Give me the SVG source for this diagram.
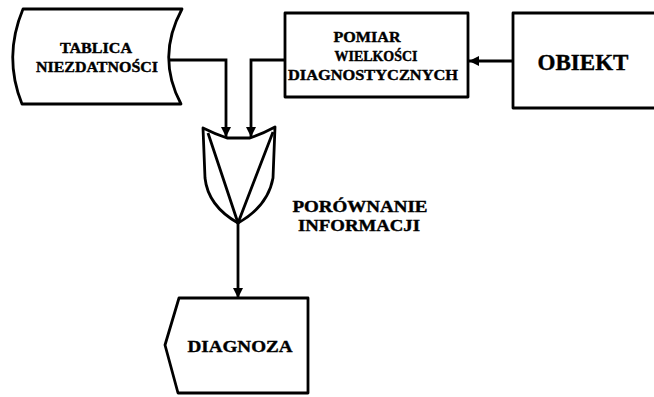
<svg xmlns="http://www.w3.org/2000/svg" width="654" height="397" viewBox="0 0 654 397">
<style>
  .shape{fill:#fff;stroke:#000;stroke-width:2.8;stroke-linejoin:round}
  .line{fill:none;stroke:#000;stroke-width:2.8}
  .t{font-family:'Liberation Serif','DejaVu Serif','Times New Roman',serif;font-weight:900;fill:#000;stroke:#000;stroke-width:0.4;text-anchor:middle}
</style>
<defs>
  <marker id="ah" viewBox="0 0 10 10" refX="10" refY="5" markerWidth="10" markerHeight="14" markerUnits="userSpaceOnUse" orient="auto">
    <path d="M0,0 L10,5 L0,10 Z" fill="#000"/>
  </marker>
</defs>
<rect width="654" height="397" fill="#fff"/>
<g id="connectors">
  <path class="line" d="M170,60 H226 V137" marker-end="url(#ah)"/>
  <path class="line" d="M285,60 H251 V137" marker-end="url(#ah)"/>
  <path class="line" d="M513,61 H469" marker-end="url(#ah)"/>
  <path class="line" d="M238,223 V298" marker-end="url(#ah)"/>
</g>
<g id="tablica">
  <path class="shape" d="M23,9 L182,9 Q156,57 181,104 L22,104 Q3,57 23,9 Z"/>
  <text class="t" x="96" y="53" font-size="15" textLength="72" lengthAdjust="spacingAndGlyphs">TABLICA</text>
  <text class="t" x="97" y="72" font-size="15" textLength="122" lengthAdjust="spacingAndGlyphs">NIEZDATNOŚCI</text>
</g>
<g id="pomiar">
  <rect class="shape" x="285" y="13" width="183" height="84"/>
  <text class="t" x="367" y="42" font-size="15" textLength="67" lengthAdjust="spacingAndGlyphs">POMIAR</text>
  <text class="t" x="376" y="61" font-size="15" textLength="83" lengthAdjust="spacingAndGlyphs">WIELKOŚCI</text>
  <text class="t" x="373" y="80" font-size="15" textLength="170" lengthAdjust="spacingAndGlyphs">DIAGNOSTYCZNYCH</text>
</g>
<g id="obiekt">
  <rect class="shape" x="513" y="13" width="160" height="95"/>
  <text class="t" x="583" y="70" font-size="24" textLength="91" lengthAdjust="spacingAndGlyphs">OBIEKT</text>
</g>
<g id="porownanie">
  <path class="shape" d="M203,128 Q215,134 227,138 L250,138 Q262,134 275,127 L273,178 Q268,206 238,223 Q208,206 205,178 Z"/>
  <path class="line" d="M208,133 L238,223 L273,132"/>
  <text class="t" x="360" y="212" font-size="16" textLength="135" lengthAdjust="spacingAndGlyphs">PORÓWNANIE</text>
  <text class="t" x="359" y="231" font-size="16" textLength="122" lengthAdjust="spacingAndGlyphs">INFORMACJI</text>
</g>
<g id="diagnoza">
  <path class="shape" d="M179,298 L308,298 L308,393 L178,393 L165,345 Z"/>
  <text class="t" x="240" y="352" font-size="17" textLength="105" lengthAdjust="spacingAndGlyphs">DIAGNOZA</text>
</g>
</svg>
